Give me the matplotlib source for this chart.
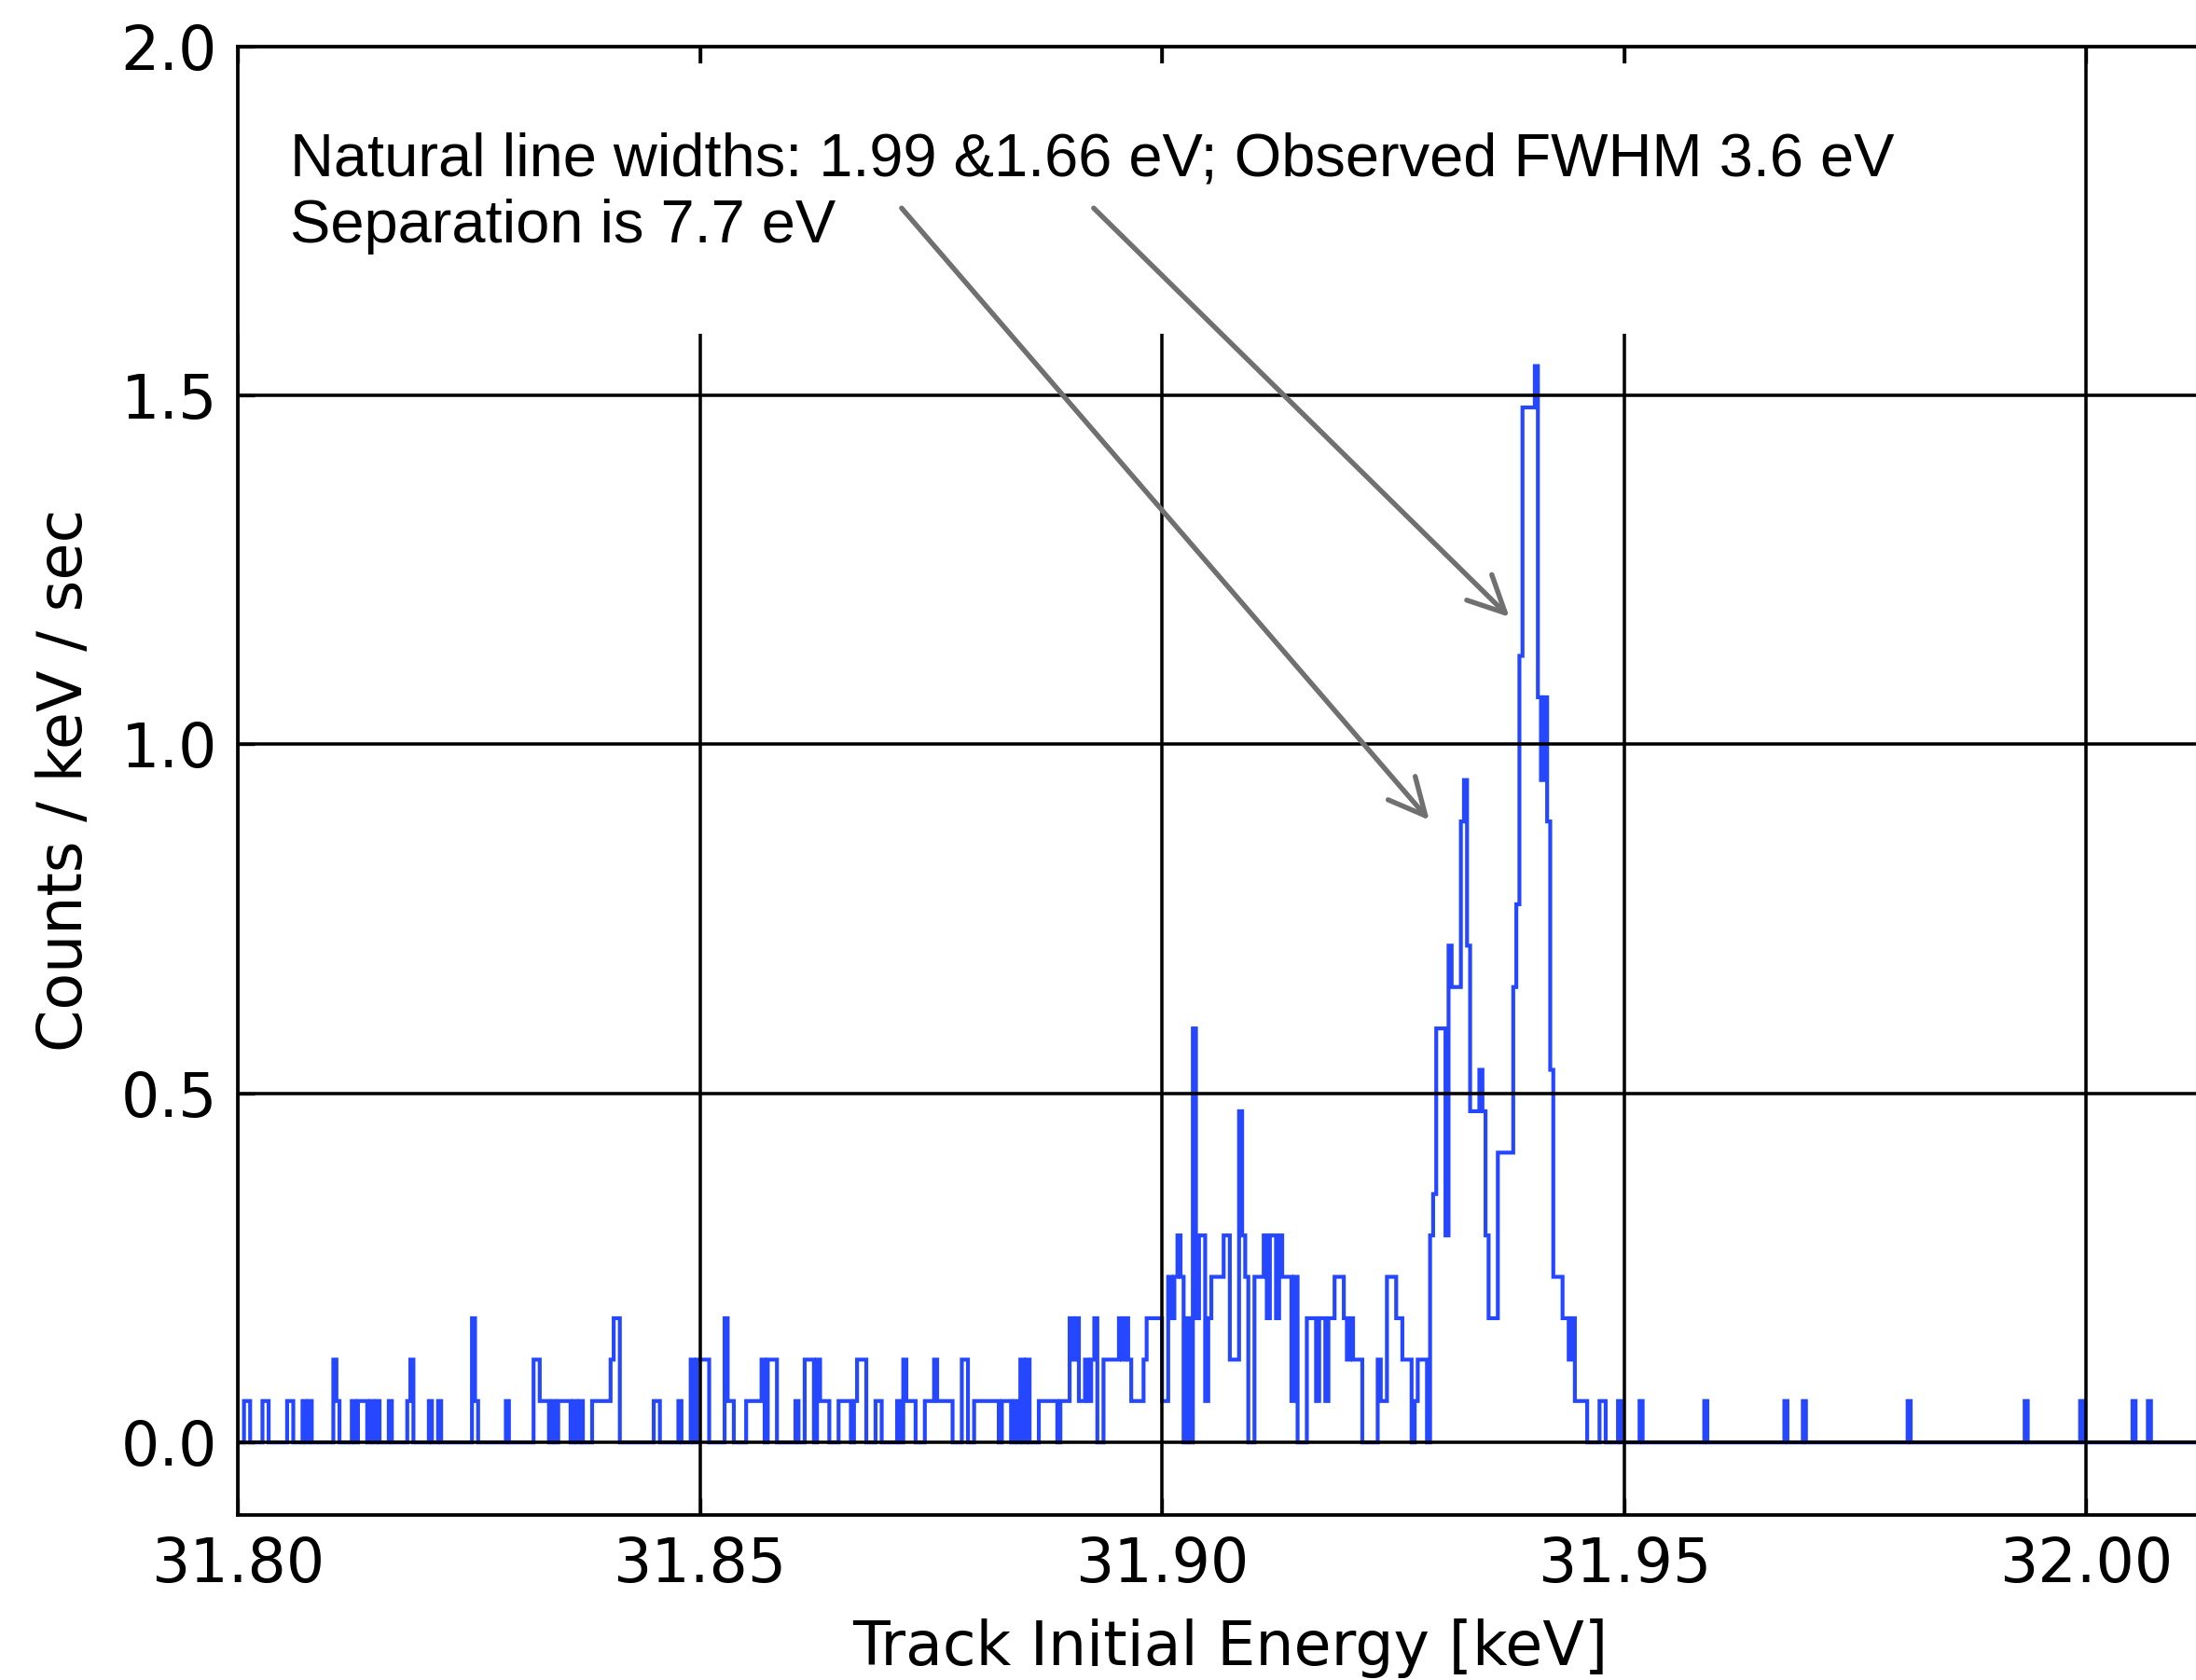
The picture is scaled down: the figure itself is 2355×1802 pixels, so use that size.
import numpy as np
import matplotlib
matplotlib.use("Agg")
import matplotlib.pyplot as plt
from matplotlib.patches import Rectangle

# Histogram binning of the track initial energies
E_MIN = 31.80            # keV, left edge of bin 0
BIN_WIDTH = 1.0 / 3000.0  # keV
N_BINS = 645
RATE_PER_COUNT = 0.0593   # counts/keV/sec contributed by one event in a bin

# Events per bin, bins 0-127
counts_a = [
    0, 0, 1, 1, 0, 0, 0, 0, 1, 1, 0, 0, 0, 0, 0, 0,
    1, 1, 0, 0, 0, 1, 0, 1, 0, 0, 0, 0, 0, 0, 0, 2,
    1, 0, 0, 0, 0, 1, 0, 1, 1, 1, 0, 1, 0, 1, 0, 0,
    0, 1, 0, 0, 0, 0, 0, 1, 2, 0, 0, 0, 0, 0, 1, 0,
    0, 1, 0, 0, 0, 0, 0, 0, 0, 0, 0, 0, 3, 1, 0, 0,
    0, 0, 0, 0, 0, 0, 0, 1, 0, 0, 0, 0, 0, 0, 0, 0,
    2, 2, 1, 1, 1, 0, 1, 0, 1, 1, 1, 1, 0, 1, 0, 1,
    0, 0, 0, 1, 1, 1, 1, 1, 1, 2, 3, 3, 0, 0, 0, 0,
]
# bins 128-255
counts_b = [
    0, 0, 0, 0, 0, 0, 0, 1, 1, 0, 0, 0, 0, 0, 0, 1,
    0, 0, 0, 2, 0, 2, 2, 2, 2, 0, 0, 0, 0, 0, 3, 1,
    1, 0, 0, 0, 0, 1, 1, 1, 1, 1, 2, 0, 2, 2, 2, 0,
    0, 0, 0, 0, 0, 1, 0, 0, 2, 2, 2, 0, 2, 1, 1, 1,
    0, 0, 0, 1, 1, 1, 1, 0, 1, 2, 2, 2, 0, 0, 0, 1,
    1, 0, 0, 0, 0, 0, 1, 0, 2, 1, 1, 1, 0, 0, 0, 1,
    1, 1, 2, 1, 1, 1, 1, 1, 0, 0, 0, 2, 2, 0, 0, 1,
    1, 1, 1, 1, 1, 1, 1, 0, 1, 1, 1, 0, 1, 0, 2, 0,
]
# bins 256-383
counts_c = [
    2, 0, 0, 0, 1, 1, 1, 1, 1, 1, 0, 1, 1, 1, 3, 2,
    3, 1, 1, 2, 1, 2, 3, 0, 0, 2, 2, 2, 2, 2, 3, 2,
    3, 2, 1, 1, 1, 1, 2, 3, 3, 3, 3, 3, 1, 1, 4, 3,
    4, 5, 4, 0, 3, 0, 10, 3, 5, 5, 1, 3, 4, 4, 4, 4,
    5, 5, 2, 2, 2, 8, 5, 4, 0, 0, 4, 4, 4, 5, 3, 5,
    5, 3, 5, 4, 4, 4, 1, 4, 0, 0, 0, 3, 3, 3, 1, 3,
    3, 1, 3, 3, 4, 4, 4, 3, 2, 3, 2, 2, 2, 0, 0, 0,
    0, 0, 2, 1, 1, 4, 4, 4, 3, 3, 2, 2, 2, 0, 1, 2,
]
# bins 384-447 (the two lines)
counts_d = [
    2, 2, 0, 5, 6, 10, 10, 10, 5, 12, 11, 11, 11, 15, 16, 12,
    8, 8, 8, 9, 8, 5, 3, 3, 3, 7, 7, 7, 7, 7, 11, 13,
    19, 25, 25, 25, 25, 26, 18, 16, 18, 15, 9, 4, 4, 4, 3, 3,
    2, 3, 1, 1, 1, 1, 0, 0, 0, 0, 1, 1, 0, 0, 0, 0,
]
# isolated single events above the lines
tail_bins = [448, 455, 476, 502, 508, 542, 580, 598, 615, 620]

counts = np.zeros(N_BINS)
counts[0:128] = counts_a
counts[128:256] = counts_b
counts[256:384] = counts_c
counts[384:448] = counts_d
counts[tail_bins] += 1
edges = E_MIN + BIN_WIDTH * np.arange(N_BINS + 1)
rate = counts * RATE_PER_COUNT

x_ticks = [31.80, 31.85, 31.90, 31.95, 32.00]
y_ticks = [0.0, 0.5, 1.0, 1.5, 2.0]

note_line1 = "Natural line widths: 1.99 &1.66 eV; Observed FWHM 3.6 eV"
note_line2 = "Separation is 7.7 eV"
arrow_tips = [(31.92891, 0.8914), (31.93758, 1.1823)]
arrow_tails = [(31.87182, 1.7681), (31.89260, 1.7681)]

plt.rcParams["font.family"] = ["DejaVu Sans"]

fig = plt.figure(figsize=(7.85, 6.0067), dpi=300)
ax = fig.add_axes([0.1083, 0.0982, 0.9036, 0.8743])

ax.stairs(rate, edges, baseline=0, fill=False, color="#2447ff", lw=1.0, zorder=2)

ax.set_xlim(31.80, 32.0147)
ax.set_ylim(-0.104, 2.0)
ax.set_xticks(x_ticks)
ax.set_xticklabels(["%.2f" % v for v in x_ticks])
ax.set_yticks(y_ticks)
ax.set_yticklabels(["%.1f" % v for v in y_ticks])
ax.tick_params(direction="in", length=4.3, width=0.8, top=True, right=True,
               labelsize=15.6, pad=5.3)
ax.grid(True, color="k", linestyle="-", linewidth=0.85)
ax.set_axisbelow(False)
for sp in ax.spines.values():
    sp.set_linewidth(0.9)
    sp.set_zorder(4)

ax.set_xlabel("Track Initial Energy [keV]", fontsize=15.6, labelpad=6)
ax.set_ylabel("Counts / keV / sec", fontsize=15.6, labelpad=6.5)

# white backing behind the note
ax.add_patch(Rectangle((31.80, 1.588), 0.1864, 1.975 - 1.588, facecolor="white",
                       edgecolor="none", zorder=2.6))
ax.text(31.80565, 1.8150, note_line1, family="Liberation Sans", fontsize=15.6,
        va="baseline", ha="left", zorder=3)
ax.text(31.80565, 1.7190, note_line2, family="Liberation Sans", fontsize=15.6,
        va="baseline", ha="left", zorder=3)

for tip, tail in zip(arrow_tips, arrow_tails):
    ax.annotate("", xy=tip, xytext=tail,
                arrowprops=dict(arrowstyle="->, head_length=0.47, head_width=0.23",
                                mutation_scale=20, color="#707070", lw=1.3,
                                shrinkA=0, shrinkB=0),
                zorder=3)

fig.savefig("out.png", dpi=300)
